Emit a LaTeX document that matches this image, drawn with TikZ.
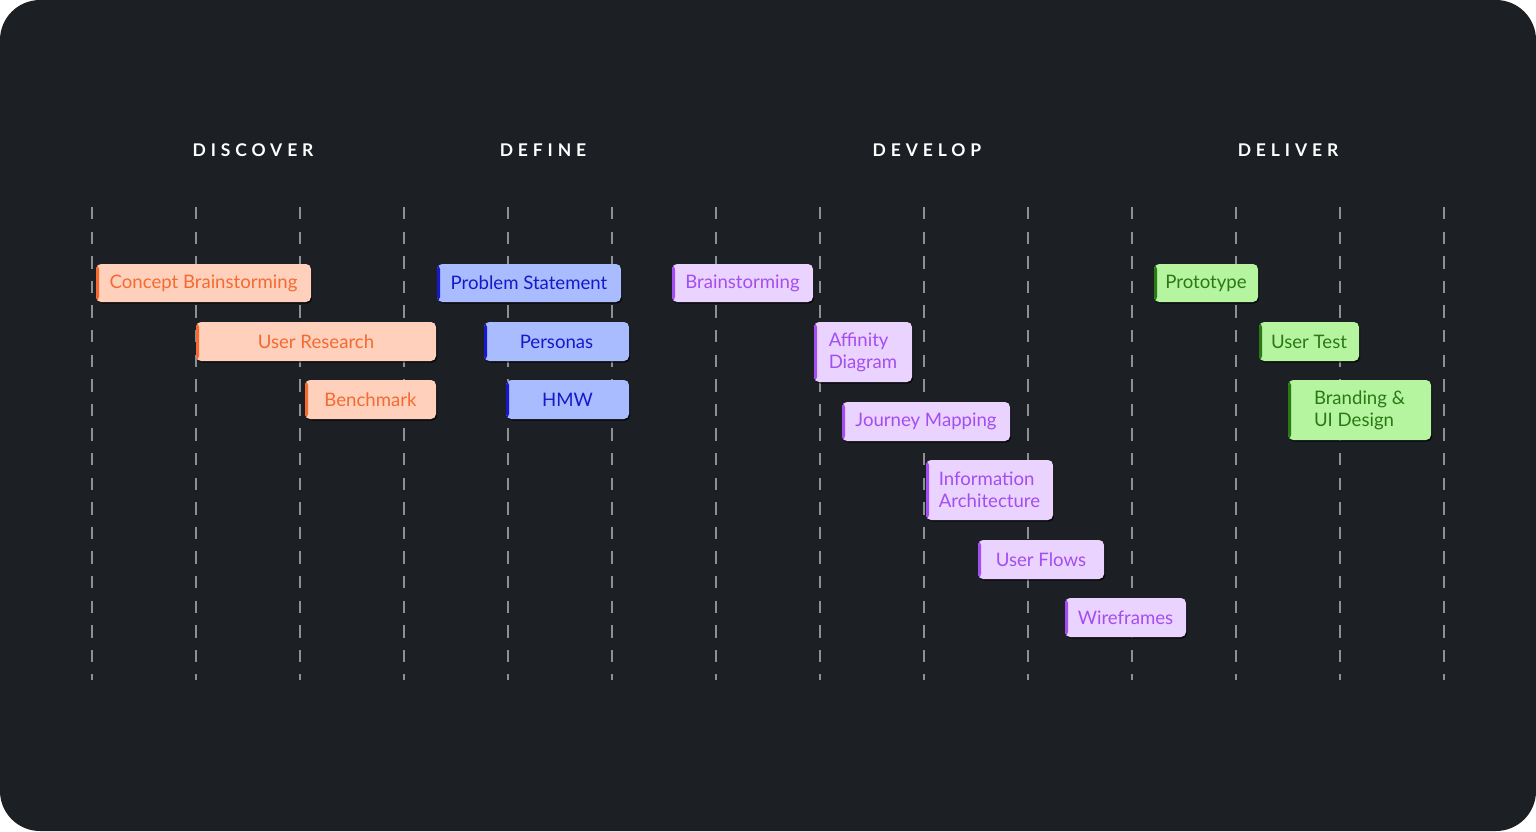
\documentclass[tikz,border=0pt]{standalone}
\usepackage{fontspec}
\usetikzlibrary{shadows}
\newfontfamily\boxfont{Lato}
\newfontfamily\headfont[LetterSpace=28]{Lato Bold}
\definecolor{bg}{HTML}{1C1F24}
\definecolor{gridc}{HTML}{8C8F94}
\definecolor{orFill}{HTML}{FFD0BB}
\definecolor{orText}{HTML}{F46A30}
\definecolor{blFill}{HTML}{A8BCFF}
\definecolor{blText}{HTML}{1818C8}
\definecolor{puFill}{HTML}{EBD3FF}
\definecolor{puText}{HTML}{A34EF0}
\definecolor{grFill}{HTML}{B5F5A0}
\definecolor{grText}{HTML}{2B7814}
\tikzset{
  gridline/.style={draw=gridc, line width=1.6pt, dash pattern=on 12.3pt off 12.3pt},
  phase/.style={text=white, font=\headfont\fontsize{17.5}{20}\selectfont},
  taskbase/.style={rectangle, rounded corners=5pt, inner sep=0pt, align=left,
    font=\boxfont\fontsize{18.6}{22}\selectfont,
    drop shadow={shadow xshift=1.2pt, shadow yshift=-1.5pt, fill=black, opacity=0.7}},
  accent/.style={path picture={\fill[#1] (path picture bounding box.south west) rectangle ([xshift=3pt]path picture bounding box.north west);}},
  orangetask/.style={taskbase, fill=orFill, text=orText, accent=orText},
  bluetask/.style={taskbase, fill=blFill, text=blText, accent=blText},
  purpletask/.style={taskbase, fill=puFill, text=puText, accent=puText},
  greentask/.style={taskbase, fill=grFill, text=grText, accent=grText},
}
\newcommand\taskbox[7]{\node[#1, minimum width={(#5)-(#3)}, minimum height={(#6)-(#4)}] (#2) at ({((#3)+(#5))/2},{((#4)+(#6))/2}) {#7};}
\begin{document}
\begin{tikzpicture}[x=1pt,y=-1pt]
\useasboundingbox (0,0) rectangle (1536,831);
\fill[white] (0,0) rectangle (1536,831);
\fill[bg, rounded corners=40pt] (0,0) rectangle (1536,831);
% grid
\foreach \gx in {92,196,300,404,508,612,716,820,924,1028,1132,1236,1340,1444}
  \draw[gridline] (\gx,207) -- (\gx,680);
% headers
\node[phase] (discover) at (253,150) {DISCOVER};
\node[phase] (define) at (543,150) {DEFINE};
\node[phase] (develop) at (927,150) {DEVELOP};
\node[phase] (deliver) at (1288,150) {DELIVER};
% discover
\taskbox{orangetask}{concept}{96}{264}{311}{302}{Concept Brainstorming}
\taskbox{orangetask}{userres}{196}{322}{436}{361}{User Research}
\taskbox{orangetask}{bench}{305}{380}{436}{419}{Benchmark}
% define
\taskbox{bluetask}{problem}{437}{264}{621}{302}{Problem Statement}
\taskbox{bluetask}{personas}{484}{322}{629}{361}{Personas}
\taskbox{bluetask}{hmw}{506}{380}{629}{419}{HMW}
% develop
\taskbox{purpletask}{brainst}{672}{264}{813}{302}{Brainstorming}
\taskbox{purpletask}{affinity}{814}{322}{912}{382}{Affinity\\Diagram}
\taskbox{purpletask}{journey}{842}{402}{1010}{441}{Journey Mapping}
\taskbox{purpletask}{infoarch}{926}{460}{1053}{520}{Information\\Architecture}
\taskbox{purpletask}{flows}{978}{540}{1104}{579}{User Flows}
\taskbox{purpletask}{wire}{1065}{598}{1186}{637}{Wireframes}
% deliver
\taskbox{greentask}{proto}{1154}{264}{1258}{302}{Prototype}
\taskbox{greentask}{usertest}{1259}{322}{1359}{361}{User Test}
\taskbox{greentask}{branding}{1288}{380}{1431}{440}{Branding \&\\UI Design}
\end{tikzpicture}
\end{document}
